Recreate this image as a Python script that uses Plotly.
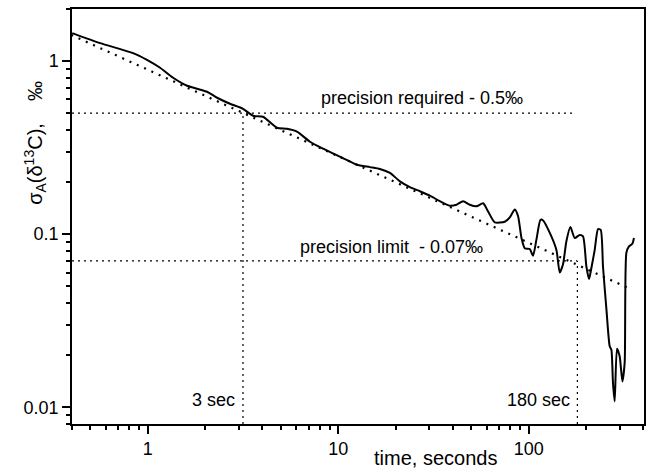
import plotly.graph_objects as go

# Measured curve: sigma_A(delta13C) vs averaging time
time_s = [0.401, 0.562, 0.837, 0.99, 1.16, 1.358, 1.608, 1.814, 2.047, 2.31, 2.70, 3.16,
          3.567, 4.025, 4.767, 5.38, 6.07, 7.10, 8.31, 10.58, 12.49, 14.66, 16.54, 18.66,
          21.06, 23.76, 26.81, 30.25, 34.14, 38.51, 41.77, 45.23, 49.04, 53.19, 57.6, 61.2,
          66.3, 74.8, 79.5, 84.5, 87.9, 91.6, 95.3, 101.2, 105.3, 109.7, 115.2, 118.9,
          128.8, 139.7, 145.4, 151.3, 157.6, 165.4, 174.3, 185.1, 192.7, 200.7, 207.2,
          213.3, 221.9, 231.0, 238.6, 245.3, 255.6, 266.0, 271.5, 276.8, 282.5, 290.5,
          300.1, 310.1, 318.8, 325.4, 335.8, 349.9, 356.7]
sigma = [1.451, 1.270, 1.112, 1.017, 0.915, 0.801, 0.720, 0.692, 0.665, 0.614, 0.567, 0.530,
         0.483, 0.477, 0.412, 0.406, 0.391, 0.342, 0.312, 0.275, 0.252, 0.244, 0.238, 0.226,
         0.202, 0.187, 0.177, 0.167, 0.155, 0.146, 0.148, 0.155, 0.148, 0.145, 0.151, 0.135,
         0.117, 0.118, 0.125, 0.139, 0.127, 0.095, 0.083, 0.082, 0.075, 0.093, 0.121, 0.120,
         0.102, 0.081, 0.060, 0.067, 0.091, 0.110, 0.095, 0.099, 0.097, 0.065, 0.055,
         0.064, 0.081, 0.107, 0.106, 0.065, 0.037, 0.0225, 0.0215, 0.0138, 0.0108, 0.0218,
         0.0197, 0.0141, 0.0181, 0.078, 0.085, 0.088, 0.095]

# Power-law fit (t^-1/2) endpoints
fit_t = [0.363, 331]
fit_sigma = [1.48, 0.049]

# Reference levels
required_level = 0.5
limit_level = 0.07
t_required = 3.16
t_limit = 180
axis_min_y = 0.008
axis_min_x = 0.4
required_line_end = 170

x_ticks = [1, 10, 100]
x_tick_labels = ["1", "10", "100"]
x_minor = [0.4, 0.5, 0.6, 0.7, 0.8, 0.9, 2, 3, 4, 5, 6, 7, 8, 9,
           20, 30, 40, 50, 60, 70, 80, 90, 200, 300, 400]
y_ticks = [0.01, 0.1, 1]
y_tick_labels = ["0.01", "0.1", "1"]
y_minor = [0.008, 0.009, 0.02, 0.03, 0.04, 0.05, 0.06, 0.07, 0.08, 0.09,
           0.2, 0.3, 0.4, 0.5, 0.6, 0.7, 0.8, 0.9, 2]

FONT = "Liberation Sans, Arial, sans-serif"
fig = go.Figure()

ref_line = dict(color="black", width=1.2, dash="2px,4px")
# horizontal reference lines
fig.add_trace(go.Scatter(x=[axis_min_x, required_line_end], y=[required_level, required_level],
                         mode="lines", line=ref_line, showlegend=False, hoverinfo="skip"))
fig.add_trace(go.Scatter(x=[axis_min_x, t_limit], y=[limit_level, limit_level],
                         mode="lines", line=ref_line, showlegend=False, hoverinfo="skip"))
# vertical reference lines
fig.add_trace(go.Scatter(x=[t_required, t_required], y=[axis_min_y, required_level],
                         mode="lines", line=ref_line, showlegend=False, hoverinfo="skip"))
fig.add_trace(go.Scatter(x=[t_limit, t_limit], y=[axis_min_y, limit_level],
                         mode="lines", line=ref_line, showlegend=False, hoverinfo="skip"))

# fit line
fig.add_trace(go.Scatter(x=fit_t, y=fit_sigma, mode="lines",
                         line=dict(color="black", width=2.2, dash="2px,6px"),
                         showlegend=False, hoverinfo="skip"))
# measured curve
fig.add_trace(go.Scatter(x=time_s, y=sigma, mode="lines",
                         line=dict(color="black", width=2, shape="spline", smoothing=0.6),
                         showlegend=False))

axis_common = dict(type="log", showgrid=False, zeroline=False, showline=True,
                   linecolor="black", linewidth=1.5, ticks="outside", ticklen=8,
                   tickwidth=1.5, tickcolor="black", mirror=True, automargin=False,
                   tickfont=dict(family=FONT, size=18, color="black"))

fig.update_xaxes(**axis_common, range=[-0.398, 2.605], tickmode="array",
                 tickvals=x_ticks, ticktext=x_tick_labels,
                 minor=dict(ticks="outside", ticklen=4, tickwidth=1.5, tickcolor="black",
                            tickmode="array", tickvals=x_minor))
fig.update_yaxes(**axis_common, range=[-2.097, 0.301], tickmode="array",
                 tickvals=y_ticks, ticktext=y_tick_labels,
                 minor=dict(ticks="outside", ticklen=4, tickwidth=1.5, tickcolor="black",
                            tickmode="array", tickvals=y_minor))

ann_font = dict(family=FONT, size=18, color="black")
fig.add_annotation(x=0.8985, y=-0.212, xref="x", yref="y", text="precision required - 0.5‰",
                   showarrow=False, xanchor="left", yanchor="middle", font=ann_font)
fig.add_annotation(x=0.788, y=-1.072, xref="x", yref="y", text="precision limit \u00a0- 0.07‰",
                   showarrow=False, xanchor="left", yanchor="middle", font=ann_font)
fig.add_annotation(x=0.468, y=-1.9556, xref="x", yref="y", text="3 sec",
                   showarrow=False, xanchor="right", yanchor="middle", font=ann_font)
fig.add_annotation(x=2.2256, y=-1.9556, xref="x", yref="y", text="180 sec",
                   showarrow=False, xanchor="right", yanchor="middle", font=ann_font)

# axis titles
fig.add_annotation(x=0.636, y=-0.082, xref="paper", yref="paper", text="time, seconds",
                   showarrow=False, xanchor="center", yanchor="middle",
                   font=dict(family=FONT, size=20, color="black"))
fig.add_annotation(x=-0.065, y=0.677, xref="paper", yref="paper",
                   text="σ<sub>A</sub>(δ<sup>13</sup>C), \u00a0 \u00a0‰", textangle=-90,
                   showarrow=False, xanchor="center", yanchor="middle",
                   font=dict(family=FONT, size=20, color="black"))

fig.update_layout(width=647, height=469, margin=dict(l=72, r=3, t=9, b=45),
                  paper_bgcolor="white", plot_bgcolor="white", showlegend=False)

fig.write_html("out.html", config={"displayModeBar": False},
               post_script="document.body.style.margin='0';document.body.style.overflow='hidden';")
